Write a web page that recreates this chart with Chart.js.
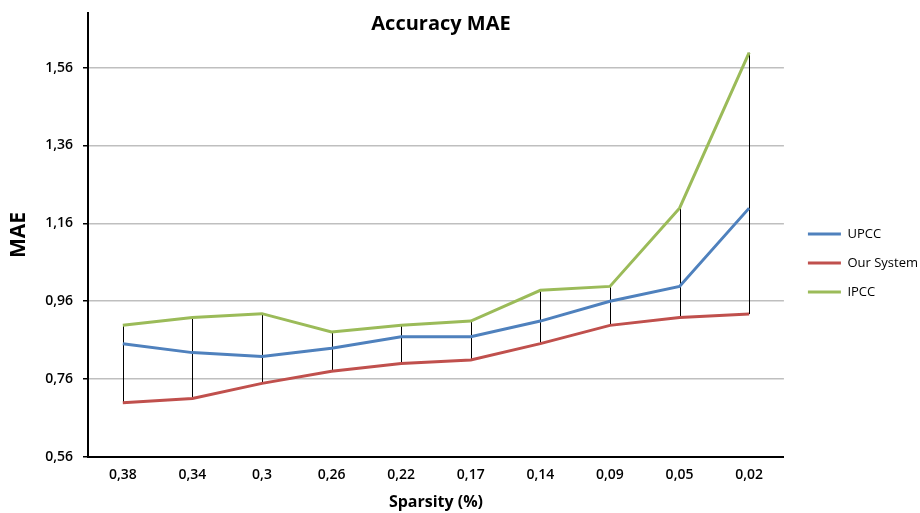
<!DOCTYPE html>
<html>
<head>
<meta charset="utf-8">
<script src="https://cdn.jsdelivr.net/npm/chart.js@4.4.1/dist/chart.umd.min.js"></script>
<style>
  html, body { margin: 0; padding: 0; background: #fff; }
  #wrap { width: 920px; height: 513px; }
</style>
</head>
<body>
<div id="wrap"><canvas id="mae"></canvas></div>
<script>
const sparsity = ["0,38", "0,34", "0,3", "0,26", "0,22", "0,17", "0,14", "0,09", "0,05", "0,02"];
const upcc = [0.851, 0.828, 0.818, 0.839, 0.869, 0.869, 0.909, 0.960, 0.998, 1.199];
const ourSystem = [0.699, 0.710, 0.749, 0.780, 0.800, 0.809, 0.851, 0.898, 0.918, 0.927];
const ipcc = [0.898, 0.918, 0.928, 0.881, 0.898, 0.909, 0.988, 0.998, 1.199, 1.598];
const yTicks = [0.56, 0.76, 0.96, 1.16, 1.36, 1.56];

const FONT = "'Open Sans', sans-serif";

// black high-low line between the top and bottom series at every point
const highLowLines = {
  id: "highLowLines",
  beforeDatasetsDraw(chart) {
    const { ctx, scales: { x, y } } = chart;
    ctx.save();
    ctx.strokeStyle = "#000";
    ctx.lineWidth = 1;
    sparsity.forEach((s, i) => {
      const vals = chart.data.datasets.map((d) => d.data[i]);
      const px = Math.round(x.getPixelForValue(i)) + 0.5;
      ctx.beginPath();
      ctx.moveTo(px, y.getPixelForValue(Math.max(...vals)));
      ctx.lineTo(px, y.getPixelForValue(Math.min(...vals)));
      ctx.stroke();
    });
    ctx.restore();
  },
};

// title sits inside the plot, above the top gridline
const chartTitle = {
  id: "chartTitle",
  afterDraw(chart) {
    const ctx = chart.ctx;
    ctx.save();
    ctx.font = "bold 20px " + FONT;
    ctx.fillStyle = "#000";
    ctx.textAlign = "center";
    ctx.textBaseline = "middle";
    ctx.fillText("Accuracy MAE", 441, 24);
    ctx.restore();
  },
};

// leave a small gap between the plot and the legend
const legendGap = {
  id: "legendGap",
  afterLayout(chart) {
    chart.legend.left += 8;
    chart.legend.right += 8;
  },
};

const ctx = document.getElementById("mae");
new Chart(ctx, {
  type: "line",
  data: {
    labels: sparsity,
    datasets: [
      { label: "UPCC", data: upcc, borderColor: "#4F81BD", backgroundColor: "#4F81BD" },
      { label: "Our System", data: ourSystem, borderColor: "#C0504D", backgroundColor: "#C0504D" },
      { label: "IPCC", data: ipcc, borderColor: "#9BBB59", backgroundColor: "#9BBB59" },
    ],
  },
  options: {
    responsive: true,
    maintainAspectRatio: false,
    animation: false,
    layout: { padding: { top: 13, right: 0, left: 0, bottom: 0 } },
    elements: {
      line: { borderWidth: 3, tension: 0 },
      point: { radius: 0 },
    },
    plugins: {
      tooltip: { enabled: false },
      legend: {
        position: "right",
        labels: {
          color: "#000",
          font: { family: FONT, size: 13 },
          boxWidth: 33,
          boxHeight: 3,
          padding: 16,
          generateLabels: (chart) =>
            Chart.defaults.plugins.legend.labels
              .generateLabels(chart)
              .map((l) => ({ ...l, lineWidth: 0 })),
        },
      },
    },
    scales: {
      x: {
        offset: true,
        grid: { display: false, drawTicks: false },
        border: { display: true, color: "#000", width: 2 },
        ticks: {
          color: "#000",
          font: { family: FONT, size: 14, weight: "600" },
          padding: 10,
          maxRotation: 0,
        },
        title: {
          display: true,
          text: "Sparsity (%)",
          color: "#000",
          font: { family: FONT, size: 16, weight: "bold" },
          padding: { top: 0, bottom: 1 },
        },
        afterFit: (scale) => { scale.height = 56; },
      },
      y: {
        min: 0.56,
        max: 1.7,
        afterBuildTicks: (scale) => {
          scale.ticks = yTicks.map((v) => ({ value: v }));
        },
        grid: {
          color: "#BFBFBF",
          lineWidth: 1.5,
          tickColor: "#000",
          tickLength: 5,
        },
        border: { color: "#000", width: 2 },
        ticks: {
          color: "#000",
          font: { family: FONT, size: 14, weight: "600" },
          padding: 10,
          callback: (v) => v.toFixed(2).replace(".", ","),
        },
        title: {
          display: true,
          text: "MAE",
          color: "#000",
          font: { family: FONT, size: 21, weight: "bold" },
          padding: { top: 6, bottom: 0 },
        },
        afterFit: (scale) => {
          scale.width = 88;
          // top label is well below the axis end, no extra room needed
          scale.paddingTop = 0;
        },
      },
    },
  },
  plugins: [highLowLines, chartTitle, legendGap],
});
</script>
</body>
</html>
